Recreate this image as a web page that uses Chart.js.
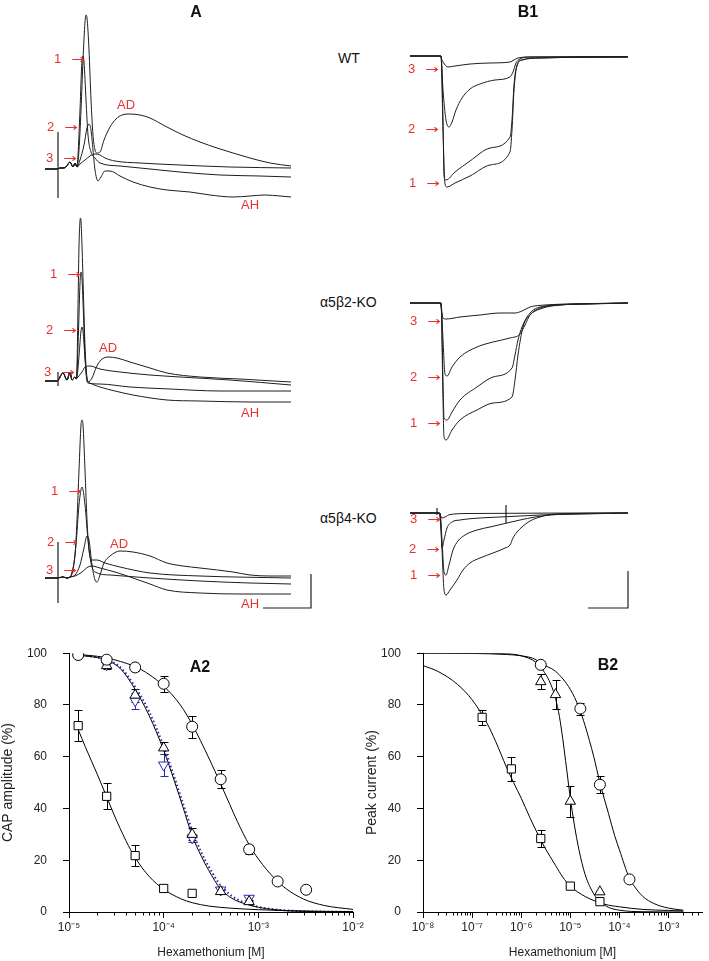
<!DOCTYPE html>
<html><head><meta charset="utf-8">
<script src="https://cdn.jsdelivr.net/npm/chart.js@4.4.1/dist/chart.umd.min.js"></script>
<style>
html,body{margin:0;padding:0;background:#fff;}
body{width:709px;height:961px;position:relative;overflow:hidden;font-family:"Liberation Sans",Arial,sans-serif;}
canvas{position:absolute;}
.t{position:absolute;white-space:nowrap;line-height:1;}
.l{transform:translateY(-50%);}
.c{transform:translate(-50%,-50%);}
.red{color:#e8312f;font-size:13px;}
.red .ar{display:inline-block;font-family:"DejaVu Sans",sans-serif;font-size:12px;transform:scaleX(1.35);transform-origin:left center;margin-left:10px;}
.blk{color:#111;font-size:14px;}
.bold{font-weight:bold;font-size:16px;color:#111;}
</style></head><body>
<script>
// ---------------- CAP traces (time ms, amplitude mV-ish) ----------------
const capWT_pre  = [[-1.3,0],[-0.1,0],[0.2,0.1],[0.5,0.1],[0.8,0.2],[1.2,0.7],[1.5,0.2],[1.7,0.6],[1.9,0.2]];
const capWT_ctrl = [[2.1,1.9],[2.3,5.9],[2.5,10.9],[2.7,14.7],[2.8,15.4],[2.9,15.1],[3.1,11.9],[3.3,6.9],[3.5,3.4],[3.7,1.9],[3.9,1.6],[4.2,1.7],[4.6,2.9],[5.2,4.2],[5.8,5.0],[6.4,5.4],[7.2,5.5],[8.2,5.4],[9.2,5.1],[10.7,4.3],[12.5,3.4],[14.2,2.7],[15.9,2.1],[17.5,1.6],[19.2,1.1],[21.2,0.6],[23.3,0.3]];
const capWT_1    = [[2.0,1.4],[2.2,5.9],[2.4,10.9],[2.5,11.3],[2.6,10.7],[2.8,6.9],[3.0,3.4],[3.3,1.7],[3.7,1.1],[4.2,0.6],[6.2,0.3],[9.2,0],[12.2,-0.3],[16.2,-0.6],[20.2,-0.7],[23.3,-0.8]];
const capWT_2    = [[2.2,0.9],[2.6,2.4],[2.9,4.1],[3.1,4.5],[3.3,3.9],[3.5,1.9],[3.7,-0.1],[4.0,-1.2],[4.3,-0.8],[4.7,-0.2],[5.2,-0.2],[6.2,-0.7],[7.5,-1.3],[9.2,-1.8],[10.9,-2.1],[13.2,-2.3],[15.2,-2.6],[17.5,-2.8],[19.2,-2.7],[20.7,-2.6],[22.2,-2.7],[23.3,-2.8]];
const capWT_3    = [[2.2,0.5],[2.7,0.9],[3.2,1.3],[3.7,1.5],[4.2,1.4],[4.7,1.1],[5.7,0.8],[8.2,0.6],[12.2,0.4],[17.2,0.2],[23.3,0.1]];
const capWT_stim = [[0,3.7],[0,-2.9]];

const capB2_pre  = [[-1.3,0],[-0.1,0],[0.5,0.8],[0.9,0.1],[1.2,0.9],[1.4,0.1],[1.7,0.4],[1.8,0.2]];
const capB2_ctrl = [[1.9,1.5],[2.0,7.5],[2.1,13.5],[2.2,16.0],[2.25,16.3],[2.3,16.0],[2.4,13.5],[2.55,8.5],[2.7,3.5],[2.85,0.8],[3.0,-0.1],[3.4,0.3],[3.8,1.3],[4.2,2.0],[5.0,2.4],[5.9,2.3],[7.2,1.9],[9.2,1.3],[10.9,0.8],[14.2,0.4],[18.2,0.2],[23.3,-0.1]];
const capB2_1    = [[1.9,0.8],[2.05,5.0],[2.2,9.8],[2.3,10.9],[2.4,10.2],[2.55,6.5],[2.7,2.5],[2.85,0.3],[3.0,-0.2],[4.2,-0.3],[7.2,-0.6],[11.2,-0.8],[16.2,-1.0],[23.3,-1.0]];
const capB2_2    = [[1.9,0.4],[2.1,2.5],[2.3,5.0],[2.4,5.4],[2.5,5.0],[2.7,2.3],[2.9,0.2],[3.2,-0.2],[4.2,-0.6],[5.7,-1.0],[7.5,-1.4],[10.9,-1.9],[14.2,-2.0],[19.2,-2.1],[23.3,-2.1]];
const capB2_3    = [[1.9,0.3],[2.4,0.9],[2.7,1.4],[3.2,1.5],[4.2,1.2],[6.2,0.9],[9.2,0.6],[12.2,0.4],[17.2,0.1],[23.3,-0.4]];
const capB2_stim = [[0,0.9],[0,-0.5]];

const capB4_pre  = [[-1.3,0],[-0.1,0],[0.5,0.1],[0.9,0],[1.2,0.1]];
const capB4_ctrl = [[1.4,0.6],[1.7,2.3],[1.9,5.8],[2.1,10.8],[2.3,15.3],[2.4,15.8],[2.5,15.3],[2.7,10.8],[2.9,5.8],[3.1,2.8],[3.4,1.8],[3.9,1.8],[4.7,1.5],[6.2,1.1],[9.2,0.5],[14.2,0.2],[23.3,0]];
const capB4_1    = [[1.4,0.4],[1.8,3.3],[2.1,7.3],[2.4,9.1],[2.7,7.3],[3.0,3.8],[3.3,1.5],[3.7,0.6],[5.2,0.3],[9.2,0],[14.2,-0.3],[19.2,-0.5],[23.3,-0.6]];
const capB4_2    = [[1.7,0.3],[2.2,1.3],[2.6,3.0],[2.9,4.2],[3.1,3.8],[3.4,1.3],[3.7,-0.2],[3.9,-0.4],[4.2,0.3],[4.6,1.5],[5.2,2.2],[6.2,2.7],[7.5,2.6],[9.2,2.2],[10.9,1.5],[12.5,1.2],[14.2,1.0],[17.5,0.6],[19.2,0.3],[21.2,0.2],[23.3,0.2]];
const capB4_3    = [[1.7,0.2],[2.4,0.6],[3.0,1.1],[3.4,1.2],[4.2,1.0],[5.7,0.6],[7.5,0],[9.2,-0.6],[10.9,-1.2],[14.2,-1.5],[18.2,-1.6],[23.3,-1.6]];
const capB4_stim = [[0,3.6],[0,-2.5]];
const capScaleBar = [[20.5,-3.0],[25.3,-3.0],[25.3,0.4]];

// ---------------- nAChR currents (time s, current a.u.) ----------------
const curWT_ctrl = [[-3.2,0],[-0.1,0],[0.1,-7.4],[0.3,-12.8],[0.5,-13.1],[1.3,-12.7],[2.8,-12.0],[4.8,-10.9],[6.8,-9.6],[7.0,-7.4],[7.2,-3.4],[7.5,-1.0],[8.0,-0.4],[9.8,-0.2],[18.6,-0.1]];
const curWT_1    = [[-3.2,0],[-0.1,0],[0.1,-6.4],[0.2,-12.0],[0.4,-12.4],[1.3,-11.6],[2.8,-10.5],[4.8,-9.2],[6.8,-8.1],[7.0,-6.4],[7.2,-2.9],[7.5,-0.9],[8.0,-0.4],[9.8,-0.2],[18.6,-0.1]];
const curWT_2    = [[-3.2,0],[-0.1,0],[0.1,-3.4],[0.4,-6.4],[0.7,-7.1],[1.0,-6.6],[1.4,-5.4],[2.0,-4.2],[2.8,-3.3],[3.8,-2.8],[5.3,-2.4],[6.8,-2.1],[7.1,-1.6],[7.4,-0.7],[7.8,-0.3],[8.8,-0.1],[18.6,-0.05]];
const curWT_3    = [[-3.2,0],[-0.2,0],[0.1,-0.6],[0.6,-1.1],[1.3,-1.0],[2.8,-0.8],[4.8,-0.7],[6.8,-0.6],[7.2,-0.4],[7.6,-0.2],[8.8,-0.1],[18.6,-0.1]];

const curB2_ctrl = [[-3.2,0],[-0.1,0],[0.1,-9.7],[0.2,-13.4],[0.4,-13.7],[1.0,-12.7],[1.8,-11.7],[3.5,-10.7],[5.1,-10.0],[7.0,-9.4],[7.3,-7.7],[7.6,-5.2],[8.1,-2.4],[8.8,-1.2],[9.8,-0.6],[11.8,-0.2],[15.8,-0.05],[18.6,0]];
const curB2_1    = [[-3.2,0],[-0.1,0],[0.1,-7.7],[0.2,-11.5],[0.5,-11.7],[1.0,-10.9],[1.8,-9.7],[3.5,-8.4],[5.1,-7.4],[7.0,-6.5],[7.3,-5.2],[7.6,-3.7],[8.0,-2.4],[8.8,-1.0],[10.3,-0.3],[13.8,-0.1],[18.6,0]];
const curB2_2    = [[-3.2,0],[-0.1,0],[0.1,-3.7],[0.3,-7.1],[0.5,-7.3],[1.0,-6.4],[1.8,-5.4],[3.5,-4.4],[5.1,-3.9],[6.8,-3.5],[7.8,-3.1],[8.3,-2.2],[8.8,-1.2],[9.8,-0.5],[11.8,-0.2],[14.8,-0.1],[18.6,0]];
const curB2_3    = [[-3.2,0],[-0.2,0],[0.1,-1.5],[0.4,-1.6],[1.8,-1.4],[3.8,-1.2],[5.8,-1.0],[7.3,-1.0],[8.0,-0.8],[8.8,-0.4],[10.3,-0.2],[12.8,-0.1],[18.6,0]];

const curB4_ctrl = [[-3.2,0],[-0.2,0],[0,-3.7],[0.2,-7.7],[0.4,-8.2],[0.8,-7.7],[1.5,-6.7],[2.1,-5.7],[2.8,-5.0],[3.8,-4.5],[5.1,-4.0],[6.3,-3.5],[6.8,-3.2],[7.1,-2.5],[7.5,-1.9],[8.0,-1.4],[8.8,-0.8],[9.8,-0.4],[11.3,-0.1],[18.6,0]];
const curB4_1    = [[-3.2,0],[-0.2,0],[0,-2.7],[0.2,-5.9],[0.4,-6.2],[0.7,-5.2],[1.1,-3.7],[1.6,-2.8],[2.3,-2.2],[3.5,-1.7],[4.8,-1.4],[6.5,-1.0],[7.8,-0.7],[9.3,-0.4],[10.8,-0.2],[13.8,-0.1],[18.6,0]];
const curB4_2    = [[-3.2,0],[-0.3,0],[-0.1,-1.7],[0,-3.5],[0.2,-2.7],[0.5,-1.5],[1.0,-0.9],[1.8,-0.7],[3.8,-0.5],[5.8,-0.4],[7.8,-0.3],[9.8,-0.2],[12.8,-0.1],[18.6,0]];
const curB4_3    = [[-3.2,0],[-0.3,0],[0,-0.5],[0.3,-0.4],[0.8,-0.15],[2.8,-0.05],[18.6,0]];
const curB4_art1 = [[-0.5,0.5],[-0.5,-0.2]];
const curB4_art2 = [[6.4,0.8],[6.4,-1.0]];
const curScaleBar = [[14.6,-9.5],[18.6,-9.5],[18.6,-5.8]];

// ---------------- A2: CAP amplitude vs hexamethonium ----------------
const a2CircleX = [1.25e-5,2.5e-5,5e-5,1e-4,2e-4,4e-4,8e-4,1.6e-3,3.2e-3];
const a2CircleY = [99.3,97.5,94.5,88.2,71.6,51.3,24.2,11.8,8.6];
const a2CircleE = [0,0.8,1.2,3.1,4.2,3.5,1.8,0,0];
const a2SquareX = [1.25e-5,2.5e-5,5e-5,1e-4,2e-4];
const a2SquareY = [72,44.7,21.8,9.1,7.2];
const a2SquareE = [6,5,4.1,0,0];
const a2TriX = [2.5e-5,5e-5,1e-4,2e-4,4e-4,8e-4];
const a2TriY = [95.2,83.8,63.4,30,7.9,4];
const a2TriE = [1.2,2.5,2.2,2.3,1,0.8];
const a2DownX = [2.5e-5,5e-5,1e-4,2e-4,4e-4,8e-4];
const a2DownY = [95.5,81.6,56.8,28.6,8.5,5.3];
const a2DownE = [1,3,4.3,1.5,1,1];

const a2FitSqX = [1.25e-5,1.5e-5,2e-5,2.5e-5,3e-5,4e-5,5e-5,7e-5,1e-4,1.5e-4,2e-4,3e-4,5e-4,1e-3,2e-3,5e-3,1e-2];
const a2FitSqY = [70.5,63.5,53,44.5,37.5,27.5,21,13.8,8.8,5.2,3.6,2.3,1.5,0.9,0.5,0.25,0.15];
const a2FitTriX = [1.25e-5,2e-5,2.5e-5,3.5e-5,5e-5,7e-5,1e-4,1.3e-4,1.6e-4,2e-4,2.5e-4,3e-4,4e-4,5e-4,6e-4,8e-4,1e-3,1.5e-3,2e-3,4e-3,1e-2];
const a2FitTriY = [99.2,98.3,97.3,94,86,76,62.5,50.5,40.5,29.5,21.5,16,8.8,5.8,4.2,2.7,1.8,0.9,0.5,0.15,0.02];
const a2FitDownY = [99.2,98.4,97.5,94.5,87,77.5,64,52,42,31.5,23,17.5,10.2,6.8,4.9,3.0,2.0,1.0,0.6,0.2,0.03];
const a2FitCirX = [1.25e-5,2e-5,2.5e-5,3.5e-5,5e-5,7e-5,1e-4,1.5e-4,2e-4,3e-4,4e-4,5e-4,6e-4,8e-4,1e-3,1.5e-3,2e-3,3e-3,5e-3,1e-2];
const a2FitCirY = [99.5,98.8,98.2,96.8,94.8,91.8,87.3,80,72.5,59.5,49.5,41.5,35,26,20.5,12.8,8.8,5,2.5,1];

// ---------------- B2: peak current vs hexamethonium ----------------
const b2SquareX = [1.6e-7,6.3e-7,2.5e-6,1e-5,4e-5];
const b2SquareY = [75.2,55.3,28.4,10,4];
const b2SquareE = [3,4.5,3.4,0,0];
const b2TriX = [2.5e-6,5e-6,1e-5,4e-5];
const b2TriY = [89,84,42.8,7.8];
const b2TriE = [2.8,5.5,6,0];
const b2CircleX = [2.5e-6,1.6e-5,4e-5,1.6e-4];
const b2CircleY = [95.5,78.6,49.2,12.6];
const b2CircleE = [0,2.3,3.2,0];

const b2FitSqX = [1e-8,2e-8,5e-8,1e-7,2e-7,3e-7,5e-7,7e-7,1e-6,1.5e-6,2e-6,3e-6,5e-6,7e-6,1e-5,2e-5,5e-5,1e-4,3e-4,1e-3,2e-3];
const b2FitSqY = [95.2,93,88,82,73,66,56,50,44,36.5,31.5,25,18,13.5,10,6,3,2,1,0.6,0.4];
const b2FitTriX = [1e-8,1e-7,5e-7,1e-6,2e-6,2.5e-6,3e-6,4e-6,5e-6,6e-6,7e-6,8e-6,1e-5,1.2e-5,1.5e-5,2e-5,3e-5,4e-5,6e-5,1e-4,3e-4,2e-3];
const b2FitTriY = [100,100,99.8,99,96.5,94.5,92.5,88,82.5,75.5,67,58.5,44,34,24,14.5,7,4,1.8,0.7,0.1,0];
const b2FitCirX = [1e-8,1e-7,5e-7,1e-6,2e-6,2.5e-6,5e-6,1e-5,1.5e-5,2e-5,3e-5,4e-5,6e-5,8e-5,1e-4,1.6e-4,2e-4,3e-4,5e-4,1e-3,2e-3];
const b2FitCirY = [100,99.9,99.5,99,97.5,96,93,86,79,72,60,50,38,29.5,24,13,10,6,3.3,1.5,0.7];

const a2Decades = [1e-5,1e-4,1e-3,1e-2];
const b2Decades = [1e-8,1e-7,1e-6,1e-5,1e-4,1e-3];
const pctTicks = [0,20,40,60,80,100];

// ---------------- helpers ----------------
Chart.defaults.font.family = '"Liberation Sans", Arial, sans-serif';
Chart.defaults.color = '#222';

function mkCanvas(left, top, w, h) {
  const c = document.createElement('canvas');
  c.width = w; c.height = h;
  c.style.left = left + 'px'; c.style.top = top + 'px';
  c.style.width = w + 'px'; c.style.height = h + 'px';
  document.body.appendChild(c);
  return c;
}
function addText(txt, x, y, cls, html) {
  const d = document.createElement('div');
  d.className = 't ' + cls;
  if (html) d.innerHTML = txt; else d.textContent = txt;
  d.style.left = x + 'px'; d.style.top = y + 'px';
  document.body.appendChild(d);
}
const pts = a => a.map(p => ({x: p[0], y: p[1]}));
const xy = (xs, ys) => xs.map((x, i) => ({x, y: ys[i]}));

function tracePanel(left, top, w, h, xmin, xmax, ymin, ymax, curves, straight) {
  const cv = mkCanvas(left, top, w, h);
  const ds = curves.map(c => ({data: pts(c), borderColor: '#1e1e1e', borderWidth: 1, pointRadius: 0, fill: false, cubicInterpolationMode: 'monotone'}));
  (straight || []).forEach(c => ds.push({data: pts(c), borderColor: '#1e1e1e', borderWidth: 1.2, pointRadius: 0, fill: false, tension: 0}));
  new Chart(cv, {
    type: 'line', data: {datasets: ds},
    options: {
      responsive: false, animation: false, devicePixelRatio: 1, events: [],
      layout: {padding: 0},
      plugins: {legend: {display: false}, tooltip: {enabled: false}},
      scales: {x: {type: 'linear', display: false, min: xmin, max: xmax}, y: {type: 'linear', display: false, min: ymin, max: ymax}}
    }
  });
}

const SUP = {'-': '\u207B', '0': '\u2070', '1': '\u00B9', '2': '\u00B2', '3': '\u00B3', '4': '\u2074', '5': '\u2075', '6': '\u2076', '7': '\u2077', '8': '\u2078', '9': '\u2079'};
const tenPow = v => '10' + String(Math.round(Math.log10(v))).split('').map(ch => SUP[ch]).join('');

const errorBars = {
  id: 'errorBars',
  beforeDatasetsDraw(chart) {
    const ctx = chart.ctx, xs = chart.scales.x, ys = chart.scales.y;
    chart.data.datasets.forEach(ds => {
      if (!ds.errors) return;
      ctx.save(); ctx.strokeStyle = ds.pointBorderColor; ctx.lineWidth = 1;
      ds.data.forEach((p, i) => {
        const e = ds.errors[i]; if (!e) return;
        const px = Math.round(xs.getPixelForValue(p.x)) + 0.5;
        const y1 = Math.round(ys.getPixelForValue(p.y + e)) + 0.5, y2 = Math.round(ys.getPixelForValue(p.y - e)) + 0.5;
        ctx.beginPath();
        ctx.moveTo(px, y1); ctx.lineTo(px, y2);
        ctx.moveTo(px - 4, y1); ctx.lineTo(px + 4, y1);
        ctx.moveTo(px - 4, y2); ctx.lineTo(px + 4, y2);
        ctx.stroke();
      });
      ctx.restore();
    });
  }
};
const minorTicks = {
  id: 'minorTicks',
  afterDraw(chart) {
    const xs = chart.scales.x, ctx = chart.ctx;
    ctx.save(); ctx.strokeStyle = '#000'; ctx.lineWidth = 1; ctx.beginPath();
    const e0 = Math.floor(Math.log10(xs.min)), e1 = Math.ceil(Math.log10(xs.max));
    for (let e = e0; e <= e1; e++) for (let k = 2; k <= 9; k++) {
      const v = k * Math.pow(10, e);
      if (v < xs.min || v > xs.max) continue;
      const px = Math.round(xs.getPixelForValue(v)) + 0.5;
      ctx.moveTo(px, xs.top); ctx.lineTo(px, xs.top + 3.5);
    }
    ctx.stroke(); ctx.restore();
  }
};

function marker(xs, ys, errs, style, color, rot, r) {
  return {data: xy(xs, ys), errors: errs, showLine: false, pointStyle: style, pointRotation: rot || 0,
    pointRadius: r, pointBackgroundColor: '#fff', pointBorderColor: color, pointBorderWidth: 1, borderColor: color, order: 0};
}
function fitLine(xs, ys, color, dash, width) {
  return {data: xy(xs, ys), pointRadius: 0, borderColor: color, borderWidth: width || 1, borderDash: dash || [], fill: false,
    cubicInterpolationMode: 'monotone', order: 1};
}

function doseChart(left, top, w, h, axisLeft, axisRight, axisTop, axisBottom, xmin, xmax, decades, yTitle, titlePad, datasets) {
  const cv = mkCanvas(left, top, w, h);
  new Chart(cv, {
    type: 'line', data: {datasets},
    plugins: [errorBars, minorTicks],
    options: {
      responsive: false, animation: false, devicePixelRatio: 1, events: [],
      layout: {padding: {top: axisTop - top, right: (left + w) - axisRight, left: 0, bottom: 0}},
      plugins: {legend: {display: false}, tooltip: {enabled: false}},
      scales: {
        x: {type: 'logarithmic', min: xmin, max: xmax,
          afterBuildTicks: s => { s.ticks = decades.map(v => ({value: v, major: true})); },
          afterFit: s => { s.height = (top + h) - axisBottom; },
          grid: {drawOnChartArea: false, drawTicks: true, tickLength: 6, color: '#000'},
          border: {display: true, color: '#000', width: 1},
          ticks: {autoSkip: false, maxRotation: 0, minRotation: 0, padding: 2, font: {size: 12}, color: '#222', callback: v => tenPow(v)},
          title: {display: true, text: 'Hexamethonium [M]', font: {size: 12}, color: '#222', padding: {top: 0, bottom: 1}}},
        y: {type: 'linear', min: 0, max: 100,
          afterBuildTicks: s => { s.ticks = pctTicks.map(v => ({value: v})); },
          afterFit: s => { s.width = axisLeft - left; },
          grid: {drawOnChartArea: false, drawTicks: true, tickLength: 6, color: '#000'},
          border: {display: true, color: '#000', width: 1},
          ticks: {padding: 16, font: {size: 12}, color: '#222'},
          title: {display: true, text: yTitle, font: {size: 14}, color: '#222', padding: {top: titlePad, bottom: 0}}}
      }
    }
  });
}

// ---------------- build ----------------
// A column (CAP traces)
tracePanel(40, 0, 280, 215, -1.8, 26.2, -4.6, 16.9,
  [capWT_pre.concat(capWT_ctrl), capWT_pre.concat(capWT_1), capWT_pre.concat(capWT_2), capWT_pre.concat(capWT_3)], [capWT_stim]);
tracePanel(40, 210, 280, 210, -1.8, 26.2, -3.9, 17.1,
  [capB2_pre.concat(capB2_ctrl), capB2_pre.concat(capB2_1), capB2_pre.concat(capB2_2), capB2_pre.concat(capB2_3)], [capB2_stim]);
tracePanel(40, 405, 280, 215, -1.8, 26.2, -4.2, 17.3,
  [capB4_pre.concat(capB4_ctrl), capB4_pre.concat(capB4_1), capB4_pre.concat(capB4_2), capB4_pre.concat(capB4_3)], [capB4_stim, capScaleBar]);

// B1 column (currents)
tracePanel(400, 0, 240, 215, -4.2, 19.8, -15.9, 5.6, [curWT_ctrl, curWT_1, curWT_2, curWT_3]);
tracePanel(400, 210, 240, 240, -4.2, 19.8, -14.7, 9.3, [curB2_ctrl, curB2_1, curB2_2, curB2_3]);
tracePanel(400, 470, 240, 150, -4.2, 19.8, -10.7, 4.3, [curB4_ctrl, curB4_1, curB4_2, curB4_3], [curB4_art1, curB4_art2, curScaleBar]);

// A2
doseChart(0, 630, 380, 331, 69, 353, 650, 912, 1e-5, 1e-2, a2Decades, 'CAP amplitude (%)', 0, [
  marker(a2CircleX, a2CircleY, a2CircleE, 'circle', '#000', 0, 5.5),
  marker(a2SquareX, a2SquareY, a2SquareE, 'rect', '#000', 0, 5.8),
  marker(a2TriX, a2TriY, a2TriE, 'triangle', '#000', 0, 6),
  marker(a2DownX, a2DownY, a2DownE, 'triangle', '#2a2ab4', 180, 6),
  fitLine(a2FitCirX, a2FitCirY, '#000'),
  fitLine(a2FitSqX, a2FitSqY, '#000'),
  fitLine(a2FitTriX, a2FitTriY, '#000'),
  fitLine(a2FitTriX, a2FitDownY, '#2a2ab4', [1.5, 2.5], 2)
]);
// B2
doseChart(360, 630, 349, 331, 423, 707, 650, 912, 1e-8, 4.8e-3, b2Decades, 'Peak current (%)', 4, [
  marker(b2CircleX, b2CircleY, b2CircleE, 'circle', '#000', 0, 5.5),
  marker(b2SquareX, b2SquareY, b2SquareE, 'rect', '#000', 0, 5.8),
  marker(b2TriX, b2TriY, b2TriE, 'triangle', '#000', 0, 6),
  fitLine(b2FitCirX, b2FitCirY, '#000'),
  fitLine(b2FitSqX, b2FitSqY, '#000'),
  fitLine(b2FitTriX, b2FitTriY, '#000')
]);

// ---------------- text ----------------
addText('A', 196, 12, 'c bold');
addText('B1', 528, 12, 'c bold');
addText('A2', 200, 667, 'c bold');
addText('B2', 608, 665, 'c bold');
addText('WT', 338, 58, 'l blk');
addText('\u03B15\u03B22-KO', 320, 302, 'l blk');
addText('\u03B15\u03B24-KO', 320, 518, 'l blk');

const redArrows = [
  ['1', 54, 58], ['2', 47, 126], ['3', 46, 157],
  ['1', 50, 273], ['2', 46, 329], ['3', 44, 371],
  ['1', 51, 490], ['2', 47, 541], ['3', 46, 569],
  ['3', 408, 68], ['2', 408, 128], ['1', 409, 182],
  ['3', 410, 320], ['2', 410, 376], ['1', 410, 422],
  ['3', 410, 518], ['2', 409, 548], ['1', 410, 574]
];
redArrows.forEach(r => addText(r[0] + '<span class="ar">\u2192</span>', r[1], r[2], 'l red', true));
[['AD', 126, 104], ['AH', 250, 204], ['AD', 108, 347], ['AH', 250, 412], ['AD', 119, 543], ['AH', 250, 603]]
  .forEach(r => addText(r[0], r[1], r[2], 'c red'));
</script>
</body></html>
